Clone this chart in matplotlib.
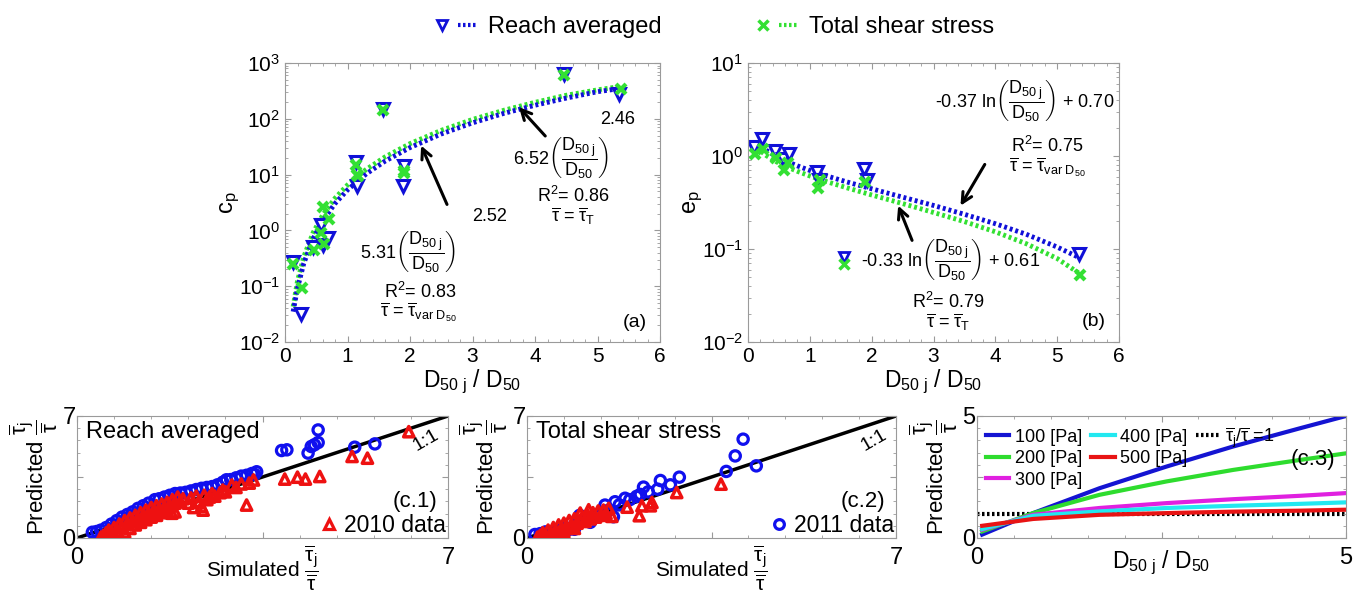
import matplotlib
matplotlib.use("Agg")
import matplotlib.pyplot as plt
import numpy as np
from matplotlib.lines import Line2D
from matplotlib.legend_handler import HandlerTuple
from matplotlib.ticker import AutoMinorLocator

plt.rcParams['font.family'] = 'Liberation Sans'
plt.rcParams['mathtext.fontset'] = 'custom'
plt.rcParams['mathtext.rm'] = 'Liberation Sans'
plt.rcParams['mathtext.it'] = 'Liberation Sans'
plt.rcParams['mathtext.default'] = 'regular'

BLUE = '#1010d8'
GREEN = '#33e033'
RED = '#ee1111'
SPINE = '#9a9a9a'
DOTS = (0, (0.6, 0.6))

# ---- panel (a): c_p vs D50j/D50
a_blue_x = [0.13, 0.25, 0.45, 0.57, 0.60, 0.68, 1.13, 1.15, 1.57, 1.91, 1.88, 4.47, 5.35]
a_blue_y = [0.27, 0.032, 0.50, 1.25, 0.55, 0.73, 16.5, 6.3, 147, 14.5, 6.2, 640, 280]
a_green_x = [0.13, 0.27, 0.46, 0.57, 0.60, 0.63, 0.70, 1.13, 1.15, 1.17, 1.57, 1.90, 1.90, 4.47, 5.37]
a_green_y = [0.25, 0.093, 0.44, 0.90, 2.6, 0.58, 1.6, 15.0, 10.0, 9.5, 145, 11.5, 10.5, 620, 340]
# trend lines
a_fit_x = [0.13, 0.2, 0.3, 0.45, 0.6, 0.8, 1.0, 1.3, 1.6, 2.0, 2.5, 3.0, 3.5, 4.0, 4.5, 5.0, 5.37]
a_fit_blue = [0.035, 0.092, 0.256, 0.71, 1.47, 3.03, 5.31, 10.3, 17.4, 30.5, 53.5, 84.6, 125, 175, 235, 306, 350]
a_fit_green = [0.043, 0.124, 0.337, 0.91, 1.86, 3.77, 6.52, 12.4, 20.7, 35.9, 62.1, 97.3, 142, 197, 264, 330, 380]

# ---- panel (b): e_p vs D50j/D50
b_blue_x = [0.10, 0.23, 0.44, 0.57, 0.66, 1.12, 1.15, 1.88, 1.92, 5.35]
b_blue_y = [1.25, 1.53, 1.14, 0.93, 1.05, 0.68, 0.55, 0.72, 0.55, 0.088]
b_green_x = [0.12, 0.25, 0.45, 0.59, 0.65, 1.13, 1.17, 1.90, 5.37]
b_green_y = [1.05, 1.20, 0.95, 0.70, 0.85, 0.45, 0.55, 0.52, 0.053]
b_fit_x = [0.15, 0.2, 0.3, 0.45, 0.6, 0.8, 1.0, 1.3, 1.6, 2.0, 2.5, 3.0, 3.5, 4.0, 4.5, 5.0, 5.37]
b_fit_blue = [1.40, 1.295, 1.146, 0.995, 0.889, 0.783, 0.70, 0.603, 0.526, 0.444, 0.361, 0.294, 0.236, 0.187, 0.144, 0.105, 0.08]
b_fit_green = [1.236, 1.141, 1.007, 0.873, 0.779, 0.684, 0.61, 0.523, 0.455, 0.381, 0.308, 0.247, 0.197, 0.153, 0.114, 0.079, 0.054]

# ---- panel (c.1): reach averaged, predicted vs simulated
c1_blue_x = [0.29, 0.37, 0.45, 0.55, 0.65, 0.75, 0.85, 0.95, 1.05, 1.15, 1.25, 1.35, 1.47, 1.55, 1.65,
             1.75, 1.85, 1.95, 2.05, 2.15, 2.25, 2.35, 2.45, 2.55, 2.65, 2.75, 2.82, 2.90, 3.00, 3.10,
             3.20, 3.30, 3.39, 3.35, 3.86, 3.96, 4.36, 4.42, 4.55, 4.55, 4.48, 5.24, 5.62]
c1_blue_y = [0.33, 0.37, 0.45, 0.60, 0.80, 1.00, 1.20, 1.35, 1.50, 1.70, 1.85, 2.00, 2.20, 2.25, 2.35,
             2.45, 2.55, 2.58, 2.62, 2.70, 2.78, 2.85, 2.90, 2.95, 3.05, 3.20, 3.34, 3.35, 3.45, 3.55,
             3.60, 3.70, 3.80, 3.65, 5.02, 5.06, 4.87, 5.25, 5.48, 6.20, 5.35, 5.21, 5.40]
c1_red_x = [0.45, 0.50, 0.55, 0.60, 0.60, 0.65, 0.70, 0.70, 0.75, 0.80, 0.80, 0.85, 0.90, 0.90, 0.95,
            1.00, 1.00, 1.05, 1.10, 1.10, 1.15, 1.20, 1.20, 1.25, 1.30, 1.30, 1.35, 1.40, 1.40, 1.45,
            1.50, 1.50, 1.55, 1.60, 1.60, 1.65, 1.70, 1.70, 1.75, 1.80, 1.79, 1.85, 1.85, 1.90, 1.95,
            2.00, 2.10, 2.15, 2.20, 2.25, 2.35, 2.38, 2.30, 2.40, 2.45, 2.50, 2.55, 2.60, 2.70, 2.75,
            2.80, 2.92, 3.00, 3.10, 3.20, 3.33, 3.25, 3.92, 4.16, 4.31, 4.58, 5.19, 5.48, 6.26]
c1_red_y = [0.05, 0.15, 0.30, 0.10, 0.45, 0.25, 0.60, 0.05, 0.40, 0.80, 0.20, 0.60, 1.00, 0.35, 0.80,
            1.15, 0.55, 0.95, 1.30, 0.75, 1.10, 1.45, 0.90, 1.25, 1.60, 1.05, 1.40, 1.75, 1.20, 1.55,
            1.85, 1.30, 1.65, 1.95, 1.45, 1.75, 2.05, 1.55, 1.85, 2.20, 1.42, 1.50, 2.00, 2.35, 2.10,
            2.25, 2.00, 2.30, 1.75, 2.40, 1.80, 1.60, 2.10, 2.45, 2.20, 2.35, 2.55, 2.40, 2.60, 2.75,
            2.65, 3.04, 2.90, 3.10, 1.89, 3.33, 3.15, 3.38, 3.49, 3.38, 3.53, 4.68, 4.58, 6.10]

# ---- panel (c.2): total shear stress
c2_blue_x = [0.15, 0.25, 0.35, 0.45, 0.55, 0.60, 0.70, 0.80, 0.90, 1.00, 1.10, 1.20, 1.30, 1.40, 1.48,
             1.55, 1.67, 1.75, 1.86, 1.95, 2.08, 2.15, 2.21, 2.30, 2.48, 2.53, 2.72, 2.89, 1.00, 0.90,
             1.20, 1.64, 3.78, 3.95, 4.10, 4.35]
c2_blue_y = [0.20, 0.25, 0.35, 0.30, 0.45, 0.17, 0.60, 0.50, 0.75, 0.90, 1.05, 1.15, 1.30, 1.45, 1.89,
             1.60, 2.08, 1.90, 2.28, 2.20, 2.39, 2.50, 2.92, 2.65, 2.80, 3.30, 3.05, 3.49, 1.30, 0.50,
             0.90, 1.22, 3.82, 4.71, 5.67, 4.14]
c2_red_x = [0.20, 0.25, 0.30, 0.35, 0.40, 0.45, 0.50, 0.55, 0.60, 0.65, 0.70, 0.75, 0.80, 0.85, 0.90,
            0.95, 1.01, 1.00, 1.05, 1.10, 1.17, 1.15, 1.20, 1.25, 1.30, 1.35, 1.40, 1.45, 1.50, 1.55,
            1.61, 0.30, 0.50, 0.70, 0.90, 1.90, 2.13, 2.18, 2.34, 2.37, 2.84, 3.68]
c2_red_y = [0.05, 0.15, 0.30, 0.10, 0.45, 0.25, 0.60, 0.35, 0.75, 0.50, 0.85, 0.60, 1.00, 0.70, 1.10,
            0.85, 1.43, 1.00, 1.20, 0.95, 1.62, 1.30, 1.10, 1.45, 1.20, 1.55, 1.30, 1.60, 1.40, 1.70,
            1.24, 0.02, 0.20, 0.35, 0.55, 1.77, 1.28, 1.85, 1.85, 2.04, 2.61, 3.09]

# ---- panel (c.3): predicted ratio vs D50j/D50 for several shear stresses
c3_x = [0.07, 0.76, 1.66, 2.57, 3.47, 4.38, 5.0]
c3_labels = ['100 [Pa]', '200 [Pa]', '300 [Pa]', '400 [Pa]', '500 [Pa]']
c3_colors = ['#1414d2', '#2edc2e', '#e020e0', '#22e8f0', '#e81414']
c3_y = [
    [0.14, 1.02, 2.04, 2.93, 3.75, 4.50, 5.00],
    [0.27, 1.02, 1.77, 2.32, 2.79, 3.20, 3.47],
    [0.34, 0.95, 1.23, 1.43, 1.59, 1.73, 1.84],
    [0.37, 0.91, 1.09, 1.23, 1.32, 1.40, 1.46],
    [0.50, 0.78, 0.95, 1.02, 1.08, 1.12, 1.16],
]

W, H = 1358, 591
fig = plt.figure(figsize=(W / 100, H / 100), dpi=100)


def px_axes(x0, y0, x1, y1):
    return fig.add_axes([x0 / W, 1 - y1 / H, (x1 - x0) / W, (y1 - y0) / H])


def style_box(ax):
    for s in ax.spines.values():
        s.set_color(SPINE)
    ax.tick_params(which='both', direction='in', top=True, right=True, color=SPINE)
    ax.tick_params(which='major', length=4)
    ax.tick_params(which='minor', length=2)


D_LABEL = r'D$_{50\ j}$ / D$_{50}$'
FRAC_D = r'$\left(\dfrac{D_{50\ j}}{D_{50}}\right)$'
TAU_VAR = r'$\overline{\tau}$ = $\overline{\tau}_{var\ D_{50}}$'
TAU_T = r'$\overline{\tau}$ = $\overline{\tau}_{T}$'
ARROW = dict(arrowstyle='->', lw=2.2, color='black', mutation_scale=18)

# ================= (a)
ax = px_axes(285, 63, 660, 342)
ax.plot(a_fit_x, a_fit_green, ls=DOTS, lw=3.5, color=GREEN)
ax.plot(a_fit_x, a_fit_blue, ls=DOTS, lw=3.5, color=BLUE)
ax.plot(a_blue_x, a_blue_y, 'v', ms=8, mfc='white', mec=BLUE, mew=2.2, ls='none')
ax.plot(a_green_x, a_green_y, 'x', ms=7, mec=GREEN, mew=3, ls='none')
ax.set_yscale('log')
ax.set_xlim(0, 6)
ax.set_ylim(1e-2, 1e3)
ax.set_xticks(range(7))
ax.xaxis.set_minor_locator(AutoMinorLocator(5))
ax.set_xlabel(D_LABEL, fontsize=16.5, labelpad=1)
ax.set_ylabel(r'c$_p$', fontsize=17, labelpad=-2)
ax.tick_params(labelsize=15)
style_box(ax)
ax.text(0.2, 0.323, '5.31' + FRAC_D, transform=ax.transAxes, fontsize=13, va='center')
ax.text(0.5, 0.45, '2.52', transform=ax.transAxes, fontsize=13, va='center')
ax.text(0.36, 0.179, r'R$^2$= 0.83', transform=ax.transAxes, fontsize=13, ha='center', va='center')
ax.text(0.355, 0.105, TAU_VAR, transform=ax.transAxes, fontsize=13, ha='center', va='center')
ax.annotate('', xy=(0.36, 0.713), xytext=(0.435, 0.484), xycoords='axes fraction', arrowprops=ARROW)
ax.text(0.608, 0.663, '6.52' + FRAC_D, transform=ax.transAxes, fontsize=13, va='center')
ax.text(0.84, 0.796, '2.46', transform=ax.transAxes, fontsize=13, va='center')
ax.text(0.768, 0.523, r'R$^2$= 0.86', transform=ax.transAxes, fontsize=13, ha='center', va='center')
ax.text(0.768, 0.452, TAU_T, transform=ax.transAxes, fontsize=13, ha='center', va='center')
ax.annotate('', xy=(0.619, 0.849), xytext=(0.699, 0.731), xycoords='axes fraction', arrowprops=ARROW)
ax.text(0.965, 0.07, '(a)', transform=ax.transAxes, fontsize=14, ha='right', va='center')

# ================= (b)
ax = px_axes(748, 63, 1119, 342)
ax.plot(b_fit_x, b_fit_green, ls=DOTS, lw=3.5, color=GREEN)
ax.plot(b_fit_x, b_fit_blue, ls=DOTS, lw=3.5, color=BLUE)
ax.plot(b_blue_x, b_blue_y, 'v', ms=8, mfc='white', mec=BLUE, mew=2.2, ls='none')
ax.plot(b_green_x, b_green_y, 'x', ms=7, mec=GREEN, mew=3, ls='none')
ax.set_yscale('log')
ax.set_xlim(0, 6)
ax.set_ylim(1e-2, 1e1)
ax.set_xticks(range(7))
ax.xaxis.set_minor_locator(AutoMinorLocator(5))
ax.set_xlabel(D_LABEL, fontsize=16.5, labelpad=1)
ax.set_ylabel(r'e$_p$', fontsize=17, labelpad=-2)
ax.tick_params(labelsize=15)
style_box(ax)
ax.text(0.745, 0.867, '-0.37 ln' + FRAC_D + ' + 0.70', transform=ax.transAxes, fontsize=13,
        ha='center', va='center')
ax.text(0.806, 0.703, r'R$^2$= 0.75', transform=ax.transAxes, fontsize=13, ha='center', va='center')
ax.text(0.806, 0.628, TAU_VAR, transform=ax.transAxes, fontsize=13, ha='center', va='center')
ax.annotate('', xy=(0.569, 0.48), xytext=(0.642, 0.645), xycoords='axes fraction', arrowprops=ARROW)
ax.plot([0.259], [0.305], 'v', ms=7, mfc='white', mec=BLUE, mew=2, transform=ax.transAxes)
ax.plot([0.259], [0.28], 'x', ms=7, mec=GREEN, mew=2.5, transform=ax.transAxes)
ax.text(0.545, 0.294, '-0.33 ln' + FRAC_D + ' + 0.61', transform=ax.transAxes, fontsize=13,
        ha='center', va='center')
ax.text(0.539, 0.143, r'R$^2$= 0.79', transform=ax.transAxes, fontsize=13, ha='center', va='center')
ax.text(0.539, 0.072, TAU_T, transform=ax.transAxes, fontsize=13, ha='center', va='center')
ax.annotate('', xy=(0.402, 0.498), xytext=(0.445, 0.355), xycoords='axes fraction', arrowprops=ARROW)
ax.text(0.965, 0.072, '(b)', transform=ax.transAxes, fontsize=14, ha='right', va='center')

# top legend
h_blue = (Line2D([], [], marker='v', ms=7, mfc='white', mec=BLUE, mew=2, ls='none'),
          Line2D([], [], ls=DOTS, lw=3, color=BLUE))
h_green = (Line2D([], [], marker='x', ms=7, mec=GREEN, mew=2.5, ls='none'),
           Line2D([], [], ls=DOTS, lw=3, color=GREEN))
fig.legend([h_blue, h_green], ['Reach averaged', 'Total shear stress'], ncol=2,
           loc='center', bbox_to_anchor=(713 / W, 1 - 27 / H), frameon=False, fontsize=17,
           handler_map={tuple: HandlerTuple(ndivide=None, pad=0.3)}, handlelength=1.9,
           columnspacing=3.9, handletextpad=0.45)

RATIO = r'$\dfrac{\overline{\tau}_j}{\overline{\tau}}$'


def c_panel(x0, x1, xmax):
    ax = px_axes(x0, 416, x1, 538)
    ax.set_xlim(0, xmax)
    ax.set_ylim(0, xmax)
    ax.set_xticks([0, xmax / 2, xmax])
    ax.set_yticks([0, xmax / 2, xmax])
    ax.set_xticklabels(['0', '', str(xmax)])
    ax.set_yticklabels(['0', '', str(xmax)])
    ax.set_xticks(np.arange(0, xmax, xmax / 10), minor=True)
    ax.set_yticks(np.arange(0, xmax, xmax / 10), minor=True)
    ax.tick_params(labelsize=17)
    ax.tick_params(axis='y', pad=1)
    ax.tick_params(axis='x', pad=6.5)
    style_box(ax)
    ax.set_ylabel('Predicted ' + RATIO, fontsize=16, labelpad=2)
    return ax


for k, (x0, x1, bx, by, rx, ry, title, tag, leg) in enumerate([
        (77, 448, c1_blue_x, c1_blue_y, c1_red_x, c1_red_y, 'Reach averaged', '(c.1)', '2010 data'),
        (527, 896, c2_blue_x, c2_blue_y, c2_red_x, c2_red_y, 'Total shear stress', '(c.2)', '2011 data')]):
    ax = c_panel(x0, x1, 7)
    ax.plot([0, 7], [0, 7], color='black', lw=2.5, zorder=1)
    ax.scatter(bx, by, s=55, facecolors='none', edgecolors='#1010ee', linewidths=2.3, zorder=2)
    ax.scatter(rx, ry, s=55, marker='^', facecolors='none', edgecolors=RED, linewidths=2.5, zorder=3)
    ax.text(0.024, 0.87, title, transform=ax.transAxes, fontsize=17, va='center')
    ax.text(0.972, 0.3, tag, transform=ax.transAxes, fontsize=16, ha='right', va='center')
    ax.text(0.94, 0.8, '1:1', transform=ax.transAxes, fontsize=14, ha='center', va='center',
            rotation=30)
    if k == 0:
        hnd = Line2D([], [], marker='^', ms=7, mfc='none', mec=RED, mew=2.3, ls='none')
    else:
        hnd = Line2D([], [], marker='o', ms=7, mfc='none', mec='#1010ee', mew=2.3, ls='none')
    ax.legend([hnd], [leg], loc='center right', bbox_to_anchor=(1.0, 0.105), frameon=False,
              fontsize=16.5, handletextpad=0.1, borderaxespad=0.0, borderpad=0.1,
              handlelength=1.1)
    ax.set_xlabel('Simulated ' + RATIO, fontsize=15, labelpad=-18.5)

# ================= (c.3)
ax = c_panel(977, 1346, 5)
handles = []
for yy, lab, col in zip(c3_y, c3_labels, c3_colors):
    handles.append(ax.plot(c3_x, yy, color=col, lw=3, label=lab)[0])
ref = ax.plot([0, 5], [1, 1], ls=DOTS, color='black', lw=3,
              label=r'$\overline{\tau}_j/\overline{\tau}$ =1', zorder=1)[0]
blank = Line2D([], [], ls='none')
ax.legend([handles[0], handles[1], handles[2], handles[3], handles[4], blank, ref, blank, blank],
          [c3_labels[0], c3_labels[1], c3_labels[2], c3_labels[3], c3_labels[4], '', ref.get_label(), '', ''],
          ncol=3, loc='upper left', frameon=False, fontsize=13, handlelength=1.3,
          handletextpad=0.3, columnspacing=0.5, labelspacing=0.25, borderaxespad=0.1)
ax.text(0.97, 0.645, '(c.3)', transform=ax.transAxes, fontsize=16, ha='right', va='center')
ax.set_xlabel(D_LABEL, fontsize=16.5, labelpad=-14.5)

fig.savefig('out.png', dpi=100)
